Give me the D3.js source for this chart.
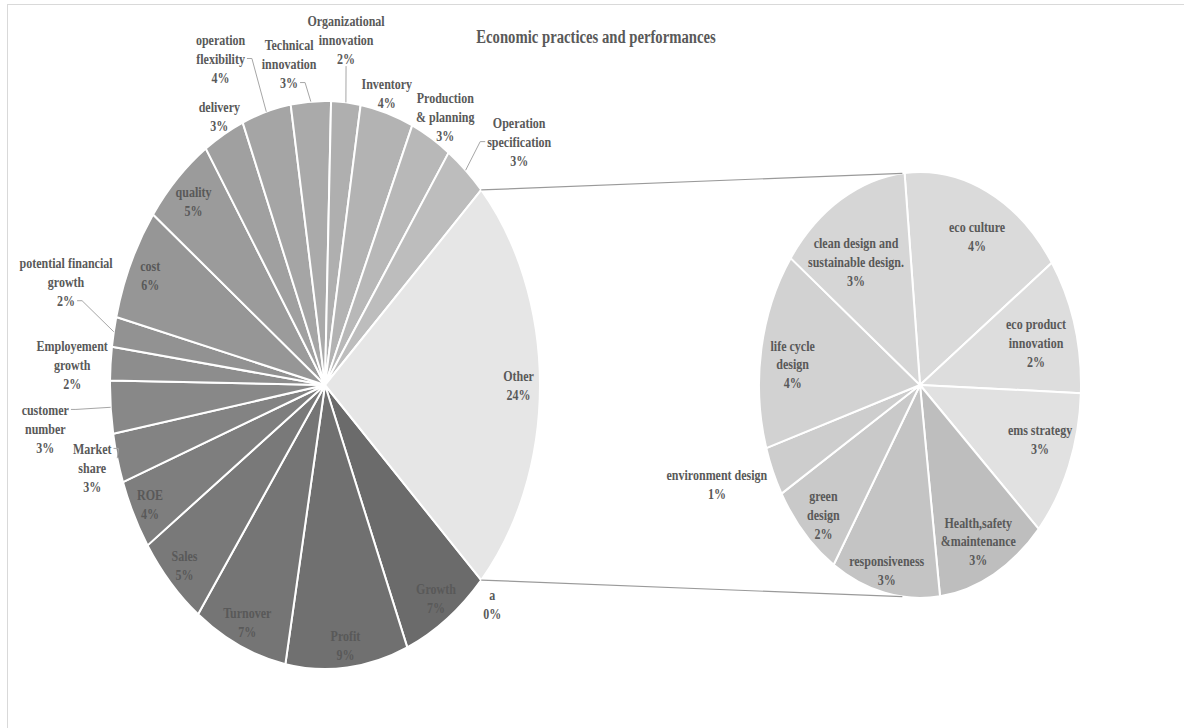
<!DOCTYPE html>
<html>
<head>
<meta charset="utf-8">
<script src="https://cdn.jsdelivr.net/npm/d3@7"></script>
<style>
  html, body { margin: 0; padding: 0; background: #fff; }
  svg { display: block; }
  text { font-family: "Liberation Serif", "Times New Roman", serif; font-weight: bold; fill: #595959; }
</style>
</head>
<body>
<svg id="chart" width="1184" height="728"></svg>
<script>
// ---- data -------------------------------------------------------------
const chartTitle = "Economic practices and performances";

// primary pie, clockwise starting right after the "Other" wedge
const mainLabels = ["a", "Growth", "Profit", "Turnover", "Sales", "ROE", "Market share",
  "customer number", "Employement growth", "potential financial growth", "cost", "quality",
  "delivery", "operation flexibility", "Technical innovation", "Organizational innovation",
  "Inventory", "Production & planning", "Operation specification"];
const mainValues = [0, 6.7, 9.2, 7.1, 5.4, 4.0, 2.8, 3.0, 1.9, 1.7, 6.4, 5.4, 3.1, 3.7, 3.0, 2.2, 4.0, 3.1, 3.2];
const otherLabel = "Other";

// secondary pie: the breakdown of "Other", clockwise from the top
const subLabels = ["eco culture", "eco product innovation", "ems strategy", "Health,safety &maintenance",
  "responsiveness", "green design", "environment design", "life cycle design",
  "clean design and sustainable design."];
const subValues = [4.05, 2.49, 2.7, 2.7, 2.65, 1.8, 0.9, 3.6, 3.21];

// ---- layout & style ---------------------------------------------------
const W = 1184, H = 728;
const SY = 1.3;                        // vertical stretch of the whole drawing
const FS = 12, LH = 14.6;              // label font size / line height (unstretched)
const mainPie = { cx: 325, cy: 385, rx: 215, ry: 284 };
const subPie  = { cx: 920, cy: 385, rx: 161, ry: 213, start: -5.5 };
const connectorAngle = 6.3;            // degrees off vertical where connectors meet the small pie

const wrap = {
  "Operation specification": ["Operation", "specification"],
  "Production & planning": ["Production", "& planning"],
  "Organizational innovation": ["Organizational", "innovation"],
  "Technical innovation": ["Technical", "innovation"],
  "operation flexibility": ["operation", "flexibility"],
  "potential financial growth": ["potential financial", "growth"],
  "Employement growth": ["Employement", "growth"],
  "customer number": ["customer", "number"],
  "Market share": ["Market", "share"],
  "eco product innovation": ["eco product", "innovation"],
  "Health,safety &maintenance": ["Health,safety", "&maintenance"],
  "green design": ["green", "design"],
  "life cycle design": ["life cycle", "design"],
  "clean design and sustainable design.": ["clean design and", "sustainable design."]
};

// label placement: radius as a fraction of the pie radius, angle in degrees (null = wedge middle)
const mainLabelPos = {
  "a": { r: 1.097, a: 134.8 },
  "Growth": { r: 0.91 }, "Profit": { r: 0.92 }, "Turnover": { r: 0.91 },
  "Sales": { r: 0.91 }, "ROE": { r: 0.915 },
  "Market share": { r: 1.121, a: 255, leader: { side: "right", line: 0 } },
  "customer number": { r: 1.31, a: 263.3, leader: { side: "right", line: 0 } },
  "Employement growth": { r: 1.178, a: 273.5 },
  "potential financial growth": { r: 1.258, a: 286.8, leader: { side: "right", line: 2 } },
  "cost": { r: 0.9 }, "quality": { r: 0.89 },
  "delivery": { r: 1.068, a: 332.6 },
  "operation flexibility": { r: 1.248, a: 337.1, leader: { side: "right", line: 1 } },
  "Technical innovation": { r: 1.144, a: 351.6, leader: { side: "right", line: 2 } },
  "Organizational innovation": { r: 1.221, a: 4.6, leader: { side: "bottom" } },
  "Inventory": { r: 1.069, a: 15.6 },
  "Production & planning": { r: 1.099, a: 30.6 },
  "Operation specification": { r: 1.245, a: 46.5, leader: { side: "left", line: 1 } },
  "Other": { r: 0.9 }
};
const subLabelPos = {
  "eco culture": { r: 0.786, a: 26.8 },
  "eco product innovation": { r: 0.748, a: 74.5 },
  "ems strategy": { r: 0.788, a: 108.9 },
  "Health,safety &maintenance": { r: 0.817, a: 153.7 },
  "responsiveness": { r: 0.893, a: 193.4 },
  "green design": { r: 0.853, a: 224.7 },
  "environment design": { r: 1.345, a: 249.7 },
  "life cycle design": { r: 0.797, a: 277.1 },
  "clean design and sustainable design.": { r: 0.702, a: 325.5 }
};

const mainDark = "#6b6b6b", mainLight = "#bdbdbd", otherColor = "#e6e6e6";
const subColors = ["#dadada", "#dddddd", "#e1e1e1", "#bebebe", "#c4c4c4", "#c9c9c9", "#cdcdcd", "#d2d2d2", "#d6d6d6"];

// ---- drawing ----------------------------------------------------------
const svg = d3.select("#chart");
const rad = d => d * Math.PI / 180;
const pct = d3.format(".0%");

// chart frame
svg.append("rect").attr("x", 7.5).attr("y", 4.5).attr("width", W + 20).attr("height", H + 20)
  .attr("fill", "none").attr("stroke", "#d9d9d9").attr("stroke-width", 1);

const mainData = mainLabels.map((k, i) => ({ label: k, value: mainValues[i] }));
const otherValue = d3.sum(subValues);
mainData.push({ label: otherLabel, value: otherValue });
const total = d3.sum(mainData, d => d.value);

const otherSpan = otherValue / total * 2 * Math.PI;
const mainStart = Math.PI / 2 + otherSpan / 2;
const mainArcs = d3.pie().sort(null).value(d => d.value)
  .startAngle(mainStart).endAngle(mainStart + 2 * Math.PI)(mainData);

const subData = subLabels.map((k, i) => ({ label: k, value: subValues[i] }));
const subStart = rad(subPie.start);
const subArcs = d3.pie().sort(null).value(d => d.value)
  .startAngle(subStart).endAngle(subStart + 2 * Math.PI)(subData);

const greyRamp = d3.scaleLinear().domain([1, mainLabels.length - 1]).range([mainDark, mainLight])
  .interpolate(d3.interpolateRgb);
const mainColor = (d, i) => d.data.label === otherLabel ? otherColor : greyRamp(Math.max(i, 1));

function point(p, angle, r) {
  return [p.cx + r * p.rx * Math.sin(angle), p.cy - r * p.ry * Math.cos(angle)];
}

function drawPie(p, arcs, color) {
  const arc = d3.arc().innerRadius(0).outerRadius(p.rx);
  svg.append("g")
    .attr("transform", `translate(${p.cx},${p.cy}) scale(1,${p.ry / p.rx})`)
    .selectAll("path").data(arcs).join("path")
    .attr("d", arc)
    .attr("fill", color)
    .attr("stroke", "#fff").attr("stroke-width", 2)
    .attr("stroke-linejoin", "round")
    .attr("vector-effect", "non-scaling-stroke");
}

drawPie(mainPie, mainArcs, mainColor);
drawPie(subPie, subArcs, (d, i) => subColors[i]);

// connector lines between the "Other" wedge and the small pie
const otherArc = mainArcs[mainArcs.length - 1];
const conn = [
  [point(mainPie, otherArc.startAngle, 1), point(subPie, rad(-connectorAngle), 1)],
  [point(mainPie, otherArc.endAngle, 1), point(subPie, rad(180 + connectorAngle), 1)]
];
svg.append("g").selectAll("line").data(conn).join("line")
  .attr("x1", d => d[0][0]).attr("y1", d => d[0][1])
  .attr("x2", d => d[1][0]).attr("y2", d => d[1][1])
  .attr("stroke", "#9a9a9a").attr("stroke-width", 1.2);

// labels
const labelLayer = svg.append("g");
const leaderLayer = svg.append("g");

function drawLabel(p, a, pos) {
  const lines = (wrap[a.data.label] || [a.data.label]).concat([pct(a.data.value / total)]);
  const ang = pos.a == null ? (a.startAngle + a.endAngle) / 2 : rad(pos.a);
  const [x, y] = point(p, ang, pos.r);
  const n = lines.length;
  const t = labelLayer.append("text")
    .attr("transform", `translate(${x},${y}) scale(1,${SY})`)
    .attr("text-anchor", "middle")
    .style("font-size", FS + "px");
  const spans = lines.map((l, i) => t.append("tspan")
    .attr("x", 0).attr("y", (i - (n - 1) / 2) * LH).attr("dy", "0.35em").text(l));

  if (pos.leader) {
    const mid = (a.startAngle + a.endAngle) / 2;
    const edge = point(p, mid, 1);
    let pts;
    if (pos.leader.side === "bottom") {
      const by = y + ((n - 1) / 2 * LH + 6) * SY;
      pts = [[x, by], edge];
    } else {
      const li = pos.leader.line;
      const w = spans[li].node().getComputedTextLength();
      const ly = y + (li - (n - 1) / 2) * LH * SY;
      const dir = pos.leader.side === "right" ? 1 : -1;
      const ax = x + dir * (w / 2 + 2);
      pts = [[ax, ly], [ax + dir * 5, ly], edge];
    }
    leaderLayer.append("path")
      .attr("d", d3.line()(pts))
      .attr("fill", "none").attr("stroke", "#a6a6a6").attr("stroke-width", 1);
  }
}

mainArcs.forEach(a => drawLabel(mainPie, a, mainLabelPos[a.data.label]));
subArcs.forEach(a => drawLabel(subPie, a, subLabelPos[a.data.label]));

// title
svg.append("text")
  .attr("transform", `translate(596,36) scale(1,${SY})`)
  .attr("text-anchor", "middle").attr("dy", "0.35em")
  .style("font-size", "14.7px")
  .text(chartTitle);
</script>
</body>
</html>
